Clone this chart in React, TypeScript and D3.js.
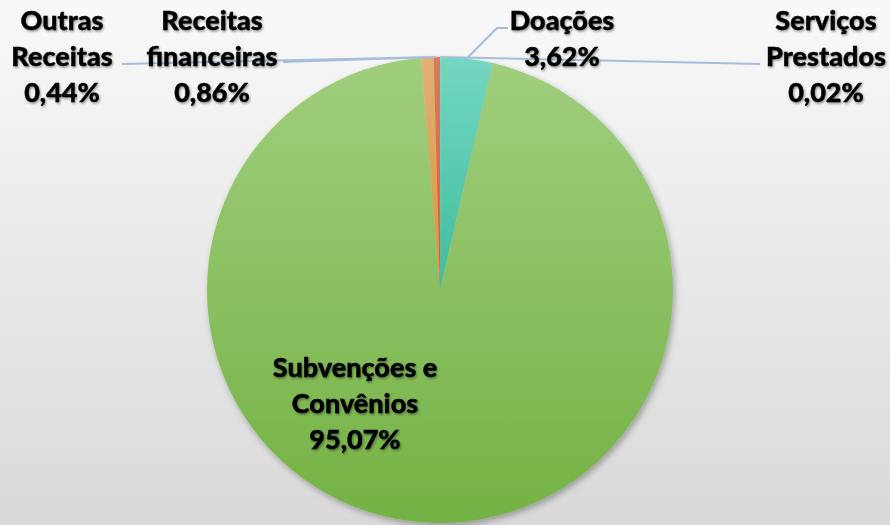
import React from "react";
import * as d3 from "d3";

const categories = ["Serviços Prestados", "Doações", "Subvenções e Convênios", "Receitas financeiras", "Outras Receitas"];
const values = [0.02, 3.62, 95.07, 0.86, 0.44];
const labelLines = [["Serviços", "Prestados"], ["Doações"], ["Subvenções e", "Convênios"], ["Receitas", "financeiras"], ["Outras", "Receitas"]];
const colorsTop = ["#8fb0d8", "#74d7c2", "#a0ce7e", "#e2b173", "#d67d62"];
const colorsBottom = ["#5b86c0", "#40bd9c", "#74b244", "#d8963a", "#cf5f2c"];

const W = 890, H = 525;
const cx = 440, cy = 290, R = 233;
const lineColor = "#a7bddc";

const labelPos: { x: number; y: number; line: [number, number][] }[] = [
  { x: 826, y: 30, line: [[760, 64]] },
  { x: 562, y: 30, line: [[508, 28], [497, 28]] },
  { x: 355, y: 377, line: [] },
  { x: 212, y: 30, line: [[283, 62]] },
  { x: 62, y: 30, line: [[122, 64]] },
];

const fmt = (v: number) => v.toFixed(2).replace(".", ",") + "%";

export default function App() {
  const pie = d3.pie<number>().sort(null).value((d) => d).startAngle(0).endAngle(2 * Math.PI);
  const arcs = pie(values);
  const arc = d3.arc<d3.PieArcDatum<number>>().innerRadius(0).outerRadius(R);
  const lineGen = d3.line();
  const lh = 36;
  return (
    <svg width={W} height={H} style={{ position: "absolute", left: 0, top: 0, display: "block" }}>
      <defs>
        <linearGradient id="bg" x1="0" y1="0" x2="0" y2="1">
          <stop offset="0" stopColor="#f9f9f9" />
          <stop offset="1" stopColor="#d9d9d9" />
        </linearGradient>
        {categories.map((c, i) => (
          <linearGradient key={c} id={"g" + i} x1="0" y1="0" x2="0" y2="1">
            <stop offset="0" stopColor={colorsTop[i]} />
            <stop offset="1" stopColor={colorsBottom[i]} />
          </linearGradient>
        ))}
        <filter id="pieShadow" x="-10%" y="-10%" width="120%" height="120%">
          <feDropShadow dx="2" dy="3" stdDeviation="3" floodColor="#000" floodOpacity="0.3" />
        </filter>
        <filter id="txtShadow" x="-10%" y="-20%" width="120%" height="140%">
          <feDropShadow dx="1" dy="1.5" stdDeviation="1.2" floodColor="#000" floodOpacity="0.4" />
        </filter>
      </defs>
      <rect x={0} y={0} width={W} height={H} fill="url(#bg)" />
      <g transform={`translate(${cx},${cy})`} filter="url(#pieShadow)">
        {arcs.map((a, i) => (
          <path key={categories[i]} d={arc(a) || ""} fill={`url(#g${i})`} />
        ))}
      </g>
      {arcs.map((a, i) => {
        const pts = labelPos[i].line;
        if (!pts.length) return null;
        const mid = (a.startAngle + a.endAngle) / 2;
        const ex = cx + R * Math.sin(mid);
        const ey = cy - R * Math.cos(mid);
        const all: [number, number][] = [...pts, [ex, ey]];
        return <path key={"l" + i} d={lineGen(all) || ""} fill="none" stroke={lineColor} strokeWidth={2} />;
      })}
      <g fontFamily="Lato, 'Open Sans', sans-serif" fontWeight={900} fontSize={27} fill="#000" stroke="#000" strokeWidth={0.4} textAnchor="middle" filter="url(#txtShadow)">
        {categories.map((c, i) => {
          const lines = [...labelLines[i], fmt(values[i])];
          return (
            <text key={c} x={labelPos[i].x} y={labelPos[i].y}>
              {lines.map((t, j) => (
                <tspan key={j} x={labelPos[i].x} y={labelPos[i].y + j * lh}>
                  {t}
                </tspan>
              ))}
            </text>
          );
        })}
      </g>
    </svg>
  );
}
